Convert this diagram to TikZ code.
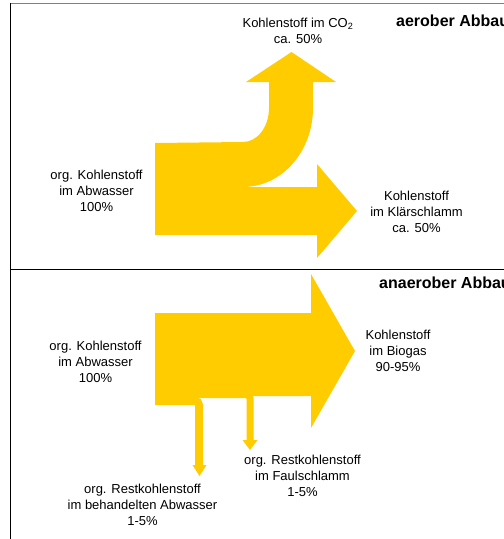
\documentclass[tikz,border=0pt]{standalone}
\usepackage{fontspec}
\setmainfont{Liberation Sans}
\definecolor{flow}{HTML}{FFCC00}
\definecolor{framegray}{HTML}{808080}
\begin{document}
\begin{tikzpicture}[x=1pt,y=-1pt,
  lbl/.style={align=center,inner sep=0pt,font=\fontsize{13}{16}\selectfont},
  ttl/.style={anchor=west,inner sep=0pt,font=\fontsize{16}{18}\selectfont\bfseries},
  flowfill/.style={fill=flow,draw=none},
  thinflow/.style={draw=flow,rounded corners=4pt}]
\useasboundingbox (0,0) rectangle (504,539);
% frame
\draw[framegray,line width=1.4pt] (10.5,3.5) -- (504,3.5);
\draw[black,line width=1pt] (10.5,3) -- (10.5,539);
\draw[black,line width=1pt] (10.5,269) -- (504,269);
% upper panel flow
\path[flowfill] (155,143) -- (243,142)
  .. controls (257.4,142) and (269,126.8) .. (269,108)
  -- (269,82) -- (246,82) -- (291.5,52) -- (336,82) -- (313,82) -- (313,108)
  .. controls (313,151.6) and (281.7,187) .. (243,187)
  -- (317,187) -- (317,164) -- (357,211) -- (317,258) -- (317,235) -- (155,235) -- cycle;
% lower panel flow
\path[flowfill] (155,313) -- (311,313) -- (311,274) -- (355,351) -- (311,428) -- (311,396) -- (155,396) -- cycle;
\draw[thinflow,line width=8pt] (155,401) -- (199,401) -- (199,466);
\path[flowfill] (192.5,465) -- (206.5,465) -- (199.5,476) -- cycle;
\draw[thinflow,line width=7pt] (155,394.5) -- (250,394.5) -- (250,441);
\path[flowfill] (242.5,440) -- (257.5,440) -- (250,450) -- cycle;
% texts
\node[ttl] (t1) at (396,21) {aerober Abbau};
\node[ttl] (t2) at (379,283) {anaerober Abbau};
\node[lbl] (co2) at (298,31) {Kohlenstoff im CO\textsubscript{2}\\ca. 50\%};
\node[lbl] (in1) at (96.5,191) {org. Kohlenstoff\\im Abwasser\\100\%};
\node[lbl] (ks) at (416.5,211.5) {Kohlenstoff\\im Klärschlamm\\ca. 50\%};
\node[lbl] (in2) at (95.5,362) {org. Kohlenstoff\\im Abwasser\\100\%};
\node[lbl] (bg) at (398,351) {Kohlenstoff\\im Biogas\\90-95\%};
\node[lbl] (fs) at (302.5,475.5) {org. Restkohlenstoff\\im Faulschlamm\\1-5\%};
\node[lbl] (ba) at (142.5,505) {org. Restkohlenstoff\\im behandelten Abwasser\\1-5\%};
\end{tikzpicture}
\end{document}
